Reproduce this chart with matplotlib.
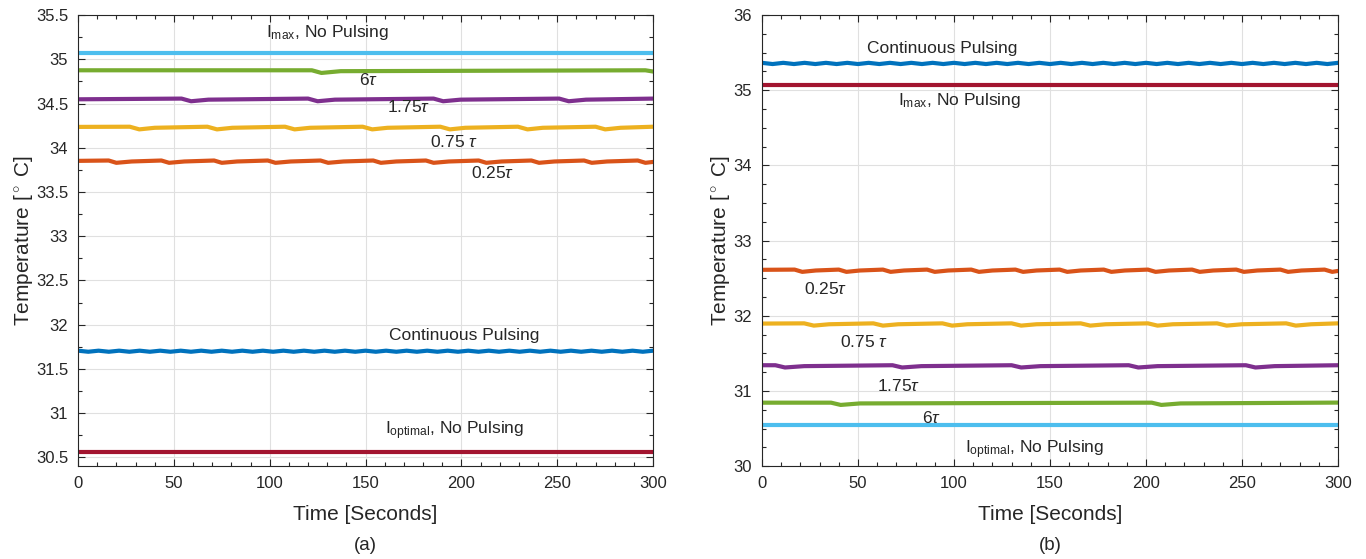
import numpy as np
import matplotlib
matplotlib.use("Agg")
from matplotlib import pyplot as plt
from matplotlib.ticker import MultipleLocator, FormatStrFormatter

plt.rcParams["font.family"] = ["Liberation Sans", "DejaVu Sans"]
plt.rcParams["mathtext.fontset"] = "custom"
plt.rcParams["mathtext.rm"] = "Liberation Sans"
plt.rcParams["mathtext.it"] = "Liberation Sans:italic"

# MATLAB default line colours
C_BLUE, C_ORANGE, C_YELLOW = "#0072BD", "#D95319", "#EDB120"
C_PURPLE, C_GREEN, C_CYAN, C_RED = "#7E2F8E", "#77AC30", "#4DBEEE", "#A2142F"
TXT = "#262626"

# ------ panel (a) data (time in s, temperature in deg C)
a_flat_t = [0, 300]
a_imax = [35.07, 35.07]
a_iopt = [30.56, 30.56]

a_6tau_t = [0, 122, 127, 137, 296, 300]
a_6tau = [34.876, 34.876, 34.846, 34.866, 34.876, 34.862]

a_175tau_t = [0, 54, 59, 68, 120, 125, 134, 185.5, 190.5, 199.5, 251, 256, 265, 300]
a_175tau = [34.548, 34.556, 34.526, 34.544, 34.556, 34.526, 34.544,
            34.556, 34.526, 34.544, 34.556, 34.526, 34.544, 34.556]

a_075tau_t = [0, 27, 32, 40, 67.5, 72.5, 80.5, 108, 113, 121, 148.5, 153.5, 161.5,
              189, 194, 202, 229.5, 234.5, 242.5, 270, 275, 283, 300]
a_075tau = [34.236, 34.238, 34.208, 34.226, 34.238, 34.208, 34.226, 34.238, 34.208,
            34.226, 34.238, 34.208, 34.226, 34.238, 34.208, 34.226, 34.238, 34.208,
            34.226, 34.238, 34.208, 34.226, 34.238]

a_025tau_t = [0, 16, 20, 28, 43.5, 47.5, 55.5, 71, 75, 83, 99, 103, 111, 126.5, 130.5,
              138.5, 154, 158, 166, 181.5, 185.5, 193.5, 209, 213, 221, 236.5, 240.5,
              248.5, 264, 268, 276, 292, 296, 300]
a_025tau = [33.852, 33.856, 33.830, 33.845, 33.856, 33.830, 33.845, 33.856, 33.830,
            33.845, 33.856, 33.830, 33.845, 33.856, 33.830, 33.845, 33.856, 33.830,
            33.845, 33.856, 33.830, 33.845, 33.856, 33.830, 33.845, 33.856, 33.830,
            33.845, 33.856, 33.830, 33.845, 33.856, 33.830, 33.840]

a_cont = [31.706, 31.694, 31.706, 31.694, 31.706, 31.694, 31.706, 31.694, 31.706,
          31.694, 31.706, 31.694, 31.706, 31.694, 31.706, 31.694, 31.706, 31.694,
          31.706, 31.694, 31.706, 31.694, 31.706, 31.694, 31.706, 31.694, 31.706,
          31.694, 31.706, 31.694, 31.706, 31.694, 31.706, 31.694, 31.706, 31.694,
          31.706, 31.694, 31.706, 31.694, 31.706, 31.694, 31.706, 31.694, 31.706,
          31.694, 31.706, 31.694, 31.706, 31.694, 31.706, 31.694, 31.706, 31.694,
          31.706, 31.694, 31.706]
a_cont_t = np.linspace(0, 300, len(a_cont))

# ------ panel (b) data
b_flat_t = [0, 300]
b_imax = [35.07, 35.07]
b_iopt = [30.55, 30.55]

b_cont = [35.365, 35.349, 35.365, 35.349, 35.365, 35.349, 35.365, 35.349, 35.365,
          35.349, 35.365, 35.349, 35.365, 35.349, 35.365, 35.349, 35.365, 35.349,
          35.365, 35.349, 35.365, 35.349, 35.365, 35.349, 35.365, 35.349, 35.365,
          35.349, 35.365, 35.349, 35.365, 35.349, 35.365, 35.349, 35.365, 35.349,
          35.365, 35.349, 35.365, 35.349, 35.365, 35.349, 35.365, 35.349, 35.365,
          35.349, 35.365, 35.349, 35.365, 35.349, 35.365, 35.349, 35.365, 35.349,
          35.365]
b_cont_t = np.linspace(0, 300, len(b_cont))

b_025tau_t = [0, 17, 21, 28, 40, 44, 51, 63, 67, 74, 86, 90, 97, 109, 113, 120, 132,
              136, 143, 155, 159, 166, 178, 182, 189, 201, 205, 212, 224, 228, 235, 247,
              251, 258, 270, 274, 281, 293, 297, 300]
b_025tau = [32.612, 32.615, 32.585, 32.603, 32.615, 32.585, 32.603, 32.615, 32.585,
            32.603, 32.615, 32.585, 32.603, 32.615, 32.585, 32.603, 32.615, 32.585,
            32.603, 32.615, 32.585, 32.603, 32.615, 32.585, 32.603, 32.615, 32.585,
            32.603, 32.615, 32.585, 32.603, 32.615, 32.585, 32.603, 32.615, 32.585,
            32.603, 32.615, 32.585, 32.597]

b_075tau_t = [0, 22, 27, 35, 58, 63, 71, 94, 99, 107, 130, 135, 143, 166, 171, 179,
              201, 206, 214, 237, 242, 250, 273, 278, 286, 300]
b_075tau = [31.897, 31.900, 31.870, 31.888, 31.900, 31.870, 31.888, 31.900, 31.870,
            31.888, 31.900, 31.870, 31.888, 31.900, 31.870, 31.888, 31.900, 31.870,
            31.888, 31.900, 31.870, 31.888, 31.900, 31.870, 31.888, 31.900]

b_175tau_t = [0, 7, 12, 22, 68, 73, 83, 130, 135, 145, 191, 196, 206, 252, 257, 267, 300]
b_175tau = [31.343, 31.343, 31.313, 31.331, 31.343, 31.313, 31.331, 31.343, 31.313,
            31.331, 31.343, 31.313, 31.331, 31.343, 31.313, 31.331, 31.343]

b_6tau_t = [0, 36, 41, 51, 203, 208, 218, 300]
b_6tau = [30.845, 30.845, 30.815, 30.835, 30.845, 30.815, 30.835, 30.846]

# ------ figure
fig = plt.figure(figsize=(13.66, 5.59), dpi=100)
ax_a = fig.add_axes([0.0571, 0.166, 0.421, 0.807])
ax_b = fig.add_axes([0.5578, 0.166, 0.4217, 0.807])

LW = 3.0
ax_a.plot(a_flat_t, a_imax, c=C_CYAN, lw=LW)
ax_a.plot(a_6tau_t, a_6tau, c=C_GREEN, lw=LW)
ax_a.plot(a_175tau_t, a_175tau, c=C_PURPLE, lw=LW)
ax_a.plot(a_075tau_t, a_075tau, c=C_YELLOW, lw=LW)
ax_a.plot(a_025tau_t, a_025tau, c=C_ORANGE, lw=LW)
ax_a.plot(a_cont_t, a_cont, c=C_BLUE, lw=LW)
ax_a.plot(a_flat_t, a_iopt, c=C_RED, lw=LW)

ax_b.plot(b_cont_t, b_cont, c=C_BLUE, lw=LW)
ax_b.plot(b_flat_t, b_imax, c=C_RED, lw=LW)
ax_b.plot(b_025tau_t, b_025tau, c=C_ORANGE, lw=LW)
ax_b.plot(b_075tau_t, b_075tau, c=C_YELLOW, lw=LW)
ax_b.plot(b_175tau_t, b_175tau, c=C_PURPLE, lw=LW)
ax_b.plot(b_6tau_t, b_6tau, c=C_GREEN, lw=LW)
ax_b.plot(b_flat_t, b_iopt, c=C_CYAN, lw=LW)

fs = 12.5
lab = dict(fontsize=fs, color=TXT, ha="center", va="center")
ax_a.text(130.4, 35.30, r"I$_{\mathrm{max}}$, No Pulsing", **lab)
ax_a.text(151.4, 34.77, r"6$\it{\tau}$", **lab)
ax_a.text(172.7, 34.46, r"1.75$\it{\tau}$", **lab)
ax_a.text(196.2, 34.07, r"0.75 $\it{\tau}$", **lab)
ax_a.text(216.5, 33.71, r"0.25$\it{\tau}$", **lab)
ax_a.text(201.4, 31.88, "Continuous Pulsing", **lab)
ax_a.text(196.2, 30.80, r"I$_{\mathrm{optimal}}$, No Pulsing", **lab)

ax_b.text(93.8, 35.56, "Continuous Pulsing", **lab)
ax_b.text(103.0, 34.87, r"I$_{\mathrm{max}}$, No Pulsing", **lab)
ax_b.text(33.3, 32.36, r"0.25$\it{\tau}$", **lab)
ax_b.text(53.0, 31.65, r"0.75 $\it{\tau}$", **lab)
ax_b.text(71.0, 31.07, r"1.75$\it{\tau}$", **lab)
ax_b.text(88.5, 30.64, r"6$\it{\tau}$", **lab)
ax_b.text(142.0, 30.22, r"I$_{\mathrm{optimal}}$, No Pulsing", **lab)

for ax, ylim, ymaj in [(ax_a, (30.4, 35.5), 0.5), (ax_b, (30, 36), 1)]:
    ax.set_xlim(0, 300)
    ax.set_ylim(*ylim)
    ax.xaxis.set_major_locator(MultipleLocator(50))
    ax.xaxis.set_minor_locator(MultipleLocator(10))
    ax.yaxis.set_major_locator(MultipleLocator(ymaj))
    ax.yaxis.set_minor_locator(MultipleLocator(0.25))
    ax.yaxis.set_major_formatter(FormatStrFormatter("%g"))
    ax.grid(True, which="major", color="#E0E0E0", lw=0.8)
    ax.set_axisbelow(True)
    ax.tick_params(which="both", direction="in", top=True, right=True,
                   colors=TXT, labelsize=12, width=0.8)
    ax.tick_params(which="major", length=5, pad=7)
    ax.tick_params(which="minor", length=3)
    for s in ax.spines.values():
        s.set_color(TXT)
        s.set_linewidth(0.8)
    ax.set_xlabel("Time [Seconds]", fontsize=15, color=TXT, labelpad=10)
    ax.set_ylabel(r"Temperature [$^\circ$ C]", fontsize=15, color=TXT, labelpad=1)

fig.text(0.2675, 0.025, "(a)", fontsize=13.5, color=TXT, ha="center", va="center")
fig.text(0.7687, 0.025, "(b)", fontsize=13.5, color=TXT, ha="center", va="center")

fig.savefig("out.png", dpi=100)
